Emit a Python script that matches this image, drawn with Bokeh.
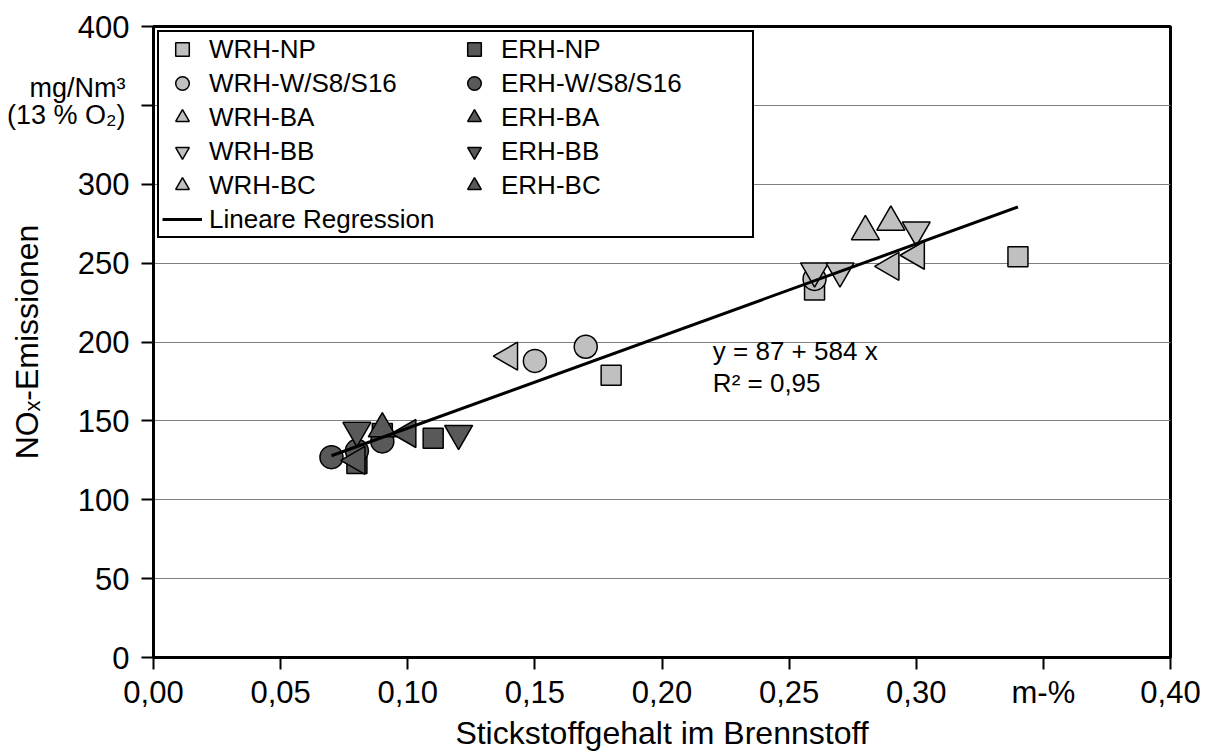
import math

from bokeh.embed import file_html
from bokeh.models import FixedTicker, Label, Legend, LegendItem, LinearAxis, Range1d
from bokeh.plotting import figure
from bokeh.resources import INLINE

FONT = "Liberation Sans"

# Stickstoffgehalt im Brennstoff (m-%) und NOx-Emissionen (mg/Nm3, 13 % O2)
wrh_np_x = [0.18, 0.26, 0.34]
wrh_np_y = [179, 233, 254]
wrh_w_x = [0.15, 0.17, 0.26]
wrh_w_y = [188, 197, 240]
wrh_ba_x = [0.28, 0.29]
wrh_ba_y = [270, 276]
wrh_bb_x = [0.26, 0.27, 0.30]
wrh_bb_y = [245, 245, 271]
wrh_bc_x = [0.14, 0.29, 0.30]
wrh_bc_y = [191, 248, 255]

erh_np_x = [0.08, 0.09, 0.11]
erh_np_y = [123, 142, 139]
erh_w_x = [0.07, 0.08, 0.09]
erh_w_y = [127, 131, 137]
erh_ba_x = [0.09]
erh_ba_y = [145]
erh_bb_x = [0.08, 0.12]
erh_bb_y = [144, 142]
erh_bc_x = [0.08, 0.10]
erh_bc_y = [125, 142]

# Lineare Regression
fit_intercept = 87
fit_slope = 584
fit_r2 = "0,95"
fit_x = [0.07, 0.34]

x_ticks = [0.0, 0.05, 0.10, 0.15, 0.20, 0.25, 0.30, 0.35, 0.40]
x_tick_labels = ["0,00", "0,05", "0,10", "0,15", "0,20", "0,25", "0,30", "m-%", "0,40"]
y_ticks = [0, 50, 100, 150, 200, 250, 300, 350, 400]
y_tick_labels = ["0", "50", "100", "150", "200", "250", "300", "", "400"]

# Einheit an Stelle der Beschriftung 350 (zweizeilig)
unit_ticks = [360.7, 343.6]
unit_labels = ["mg/Nm\u00b3", "(13 % O\u2082)"]

LIGHT = "#c0c0c0"
DARK = "#595959"

p = figure(
    width=1211, height=753,
    x_range=Range1d(0, 0.4), y_range=Range1d(0, 400),
    output_backend="svg", toolbar_location=None,
    min_border_left=153, min_border_right=41,
    min_border_top=26, min_border_bottom=96,
    background_fill_color="white", border_fill_color="white",
)

p.outline_line_color = "black"
p.outline_line_width = 3
p.xgrid.visible = False
p.ygrid.grid_line_color = "#808080"
p.ygrid.grid_line_width = 1

for ax, ticks, labels in ((p.xaxis[0], x_ticks, x_tick_labels), (p.yaxis[0], y_ticks, y_tick_labels)):
    ax.ticker = FixedTicker(ticks=ticks)
    ax.major_label_overrides = dict(zip(ticks, labels))
    ax.axis_line_width = 3
    ax.axis_line_color = "black"
    ax.major_tick_line_width = 2
    ax.major_tick_line_color = "black"
    ax.major_tick_out = 12
    ax.major_tick_in = 0
    ax.minor_tick_line_color = None
    ax.minor_tick_out = 0
    ax.major_label_text_font = FONT
    ax.major_label_text_font_size = "31px"
    ax.major_label_text_color = "black"

p.xaxis.major_label_standoff = 5
p.yaxis.major_label_standoff = 12

p.xaxis.axis_label = "Stickstoffgehalt im Brennstoff"
p.xaxis.axis_label_text_font = FONT
p.xaxis.axis_label_text_font_size = "32px"
p.xaxis.axis_label_text_font_style = "normal"
p.xaxis.axis_label_text_color = "black"
p.xaxis.axis_label_standoff = 2

# zweite linke Achse: Einheit und Achsentitel
unit_axis = LinearAxis(
    ticker=FixedTicker(ticks=unit_ticks),
    major_label_overrides=dict(zip(unit_ticks, unit_labels)),
    axis_line_color=None, major_tick_line_color=None, minor_tick_line_color=None,
    major_tick_out=0, major_tick_in=0, minor_tick_out=0, minor_tick_in=0,
    major_label_standoff=-51,
    major_label_text_font=FONT, major_label_text_font_size="27px",
    major_label_text_color="black",
    axis_label="NO\u2093-Emissionen",
    axis_label_text_font=FONT, axis_label_text_font_size="32px",
    axis_label_text_font_style="normal", axis_label_text_color="black",
    axis_label_standoff=-41,
)
p.add_layout(unit_axis, "left")

series = [
    ("WRH-NP", wrh_np_x, wrh_np_y, "square", 20, 0.0, LIGHT),
    ("WRH-W/S8/S16", wrh_w_x, wrh_w_y, "circle", 23, 0.0, LIGHT),
    ("WRH-BA", wrh_ba_x, wrh_ba_y, "triangle", 28, 0.0, LIGHT),
    ("WRH-BB", wrh_bb_x, wrh_bb_y, "inverted_triangle", 28, 0.0, LIGHT),
    ("WRH-BC", wrh_bc_x, wrh_bc_y, "triangle", 28, math.pi / 2, LIGHT),
    ("ERH-NP", erh_np_x, erh_np_y, "square", 20, 0.0, DARK),
    ("ERH-W/S8/S16", erh_w_x, erh_w_y, "circle", 23, 0.0, DARK),
    ("ERH-BA", erh_ba_x, erh_ba_y, "triangle", 28, 0.0, DARK),
    ("ERH-BB", erh_bb_x, erh_bb_y, "inverted_triangle", 28, 0.0, DARK),
    ("ERH-BC", erh_bc_x, erh_bc_y, "triangle", 28, math.pi / 2, DARK),
]

renderers = {}
for name, xs, ys, marker, size, angle, color in series:
    renderers[name] = p.scatter(
        xs, ys, marker=marker, size=size, angle=angle,
        fill_color=color, line_color="black", line_width=1.5,
    )

fit_y = [fit_intercept + fit_slope * x for x in fit_x]
fit_renderer = p.line(fit_x, fit_y, line_color="black", line_width=3)

legend_order = [
    "WRH-NP", "WRH-W/S8/S16", "WRH-BA", "WRH-BB", "WRH-BC", "Lineare Regression",
    "ERH-NP", "ERH-W/S8/S16", "ERH-BA", "ERH-BB", "ERH-BC",
]
items = []
for name in legend_order:
    r = fit_renderer if name == "Lineare Regression" else renderers[name]
    items.append(LegendItem(label=name, renderers=[r]))

legend = Legend(
    items=items, orientation="vertical", nrows=6, location="top_left",
    label_text_font=FONT, label_text_font_size="26px", label_text_color="black",
    glyph_width=40, glyph_height=34, label_height=30, label_width=245,
    label_standoff=7, spacing=0,
    padding=dict(left=3, right=6, top=0, bottom=0), margin=4,
    border_line_color="black", border_line_width=2, border_line_alpha=1.0,
    background_fill_color="white", background_fill_alpha=1.0,
)
p.add_layout(legend)

# Regressionsgleichung
p.add_layout(Label(x=0.22, y=194.6, text=f"y = {fit_intercept} + {fit_slope} x",
                   text_font=FONT, text_font_size="26px", text_baseline="middle",
                   text_color="black"))
p.add_layout(Label(x=0.22, y=173.7, text=f"R\u00b2 = {fit_r2}",
                   text_font=FONT, text_font_size="26px", text_baseline="middle",
                   text_color="black"))

open("out.html", "w").write(file_html(p, INLINE))
